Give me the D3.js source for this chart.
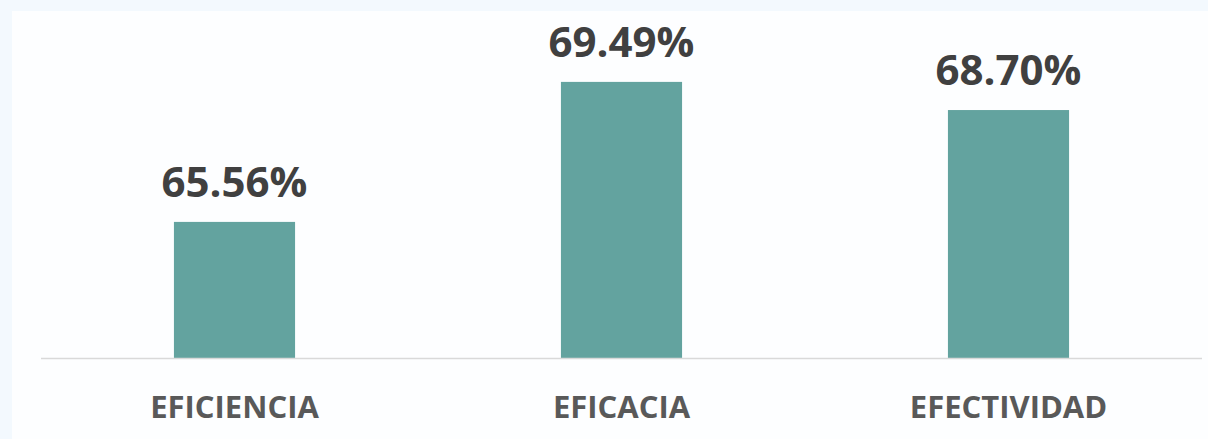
<!DOCTYPE html>
<html>
<head>
<meta charset="utf-8">
<script src="https://cdn.jsdelivr.net/npm/d3@7"></script>
<style>
  html, body { margin: 0; padding: 0; background: #f3f9fe; }
  svg { display: block; }
</style>
</head>
<body>
<svg id="chart" width="1208" height="439"></svg>
<script>
const categories = ["EFICIENCIA", "EFICACIA", "EFECTIVIDAD"];
const values = [65.56, 69.49, 68.70];
const valueLabels = ["65.56%", "69.49%", "68.70%"];

const W = 1208, H = 439;
const svg = d3.select("#chart");

svg.append("rect").attr("x", 0).attr("y", 0).attr("width", W).attr("height", H).attr("fill", "#f3f9fe");
svg.append("rect").attr("x", 12).attr("y", 11).attr("width", W - 12).attr("height", H - 11).attr("fill", "#fdfeff");

const plotLeft = 41, plotRight = 1202, baseY = 358, topY = 11;

const x = d3.scaleBand()
  .domain(categories)
  .range([plotLeft, plotRight])
  .paddingInner(0.687)
  .paddingOuter(0.3435);

const y = d3.scaleLinear()
  .domain([61.74, 71.48])
  .range([baseY, topY]);

svg.selectAll("rect.bar")
  .data(values)
  .join("rect")
  .attr("class", "bar")
  .attr("x", (d, i) => x(categories[i]))
  .attr("width", x.bandwidth())
  .attr("y", d => y(d))
  .attr("height", d => baseY - y(d))
  .attr("fill", "#63a39f");

svg.append("line")
  .attr("x1", plotLeft).attr("x2", plotRight)
  .attr("y1", baseY + 0.5).attr("y2", baseY + 0.5)
  .attr("stroke", "#d9d9d9").attr("stroke-width", 1.5);

svg.selectAll("text.val")
  .data(values)
  .join("text")
  .attr("class", "val")
  .attr("x", (d, i) => x(categories[i]) + x.bandwidth() / 2)
  .attr("y", d => y(d) - 25)
  .attr("text-anchor", "middle")
  .attr("font-family", "'Open Sans', sans-serif")
  .attr("font-weight", "bold")
  .attr("font-size", 42)
  .attr("fill", "#404040")
  .text((d, i) => valueLabels[i]);

const xAxis = d3.axisBottom(x).tickSize(0).tickPadding(0);
const gx = svg.append("g").attr("transform", `translate(0,${baseY})`).call(xAxis);
gx.select(".domain").remove();
gx.selectAll("text")
  .attr("dy", null)
  .attr("y", 60)
  .attr("font-family", "'Open Sans', sans-serif")
  .attr("font-weight", "bold")
  .attr("font-size", 31)
  .attr("fill", "#595959");
</script>
</body>
</html>
